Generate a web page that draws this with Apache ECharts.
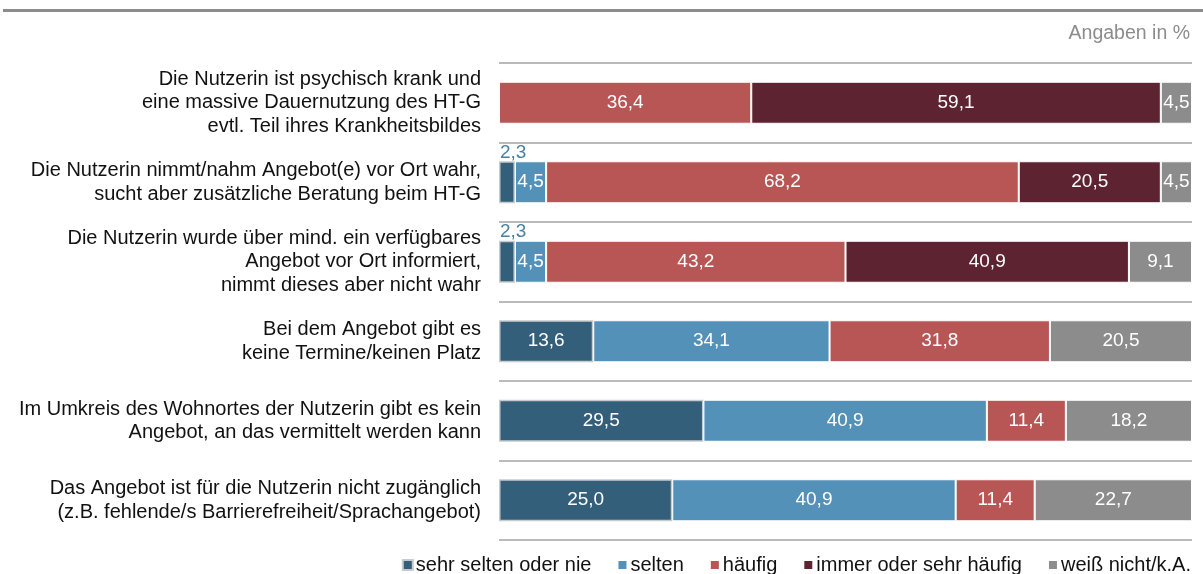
<!DOCTYPE html>
<html>
<head>
<meta charset="utf-8">
<script src="https://cdn.jsdelivr.net/npm/echarts@6/dist/echarts.min.js"></script>
<style>
  html, body { margin: 0; padding: 0; background: #fff; }
  #chart { width: 1203px; height: 574px; }
</style>
</head>
<body>
<div id="chart"></div>
<script>
// Kategorien (von oben nach unten)
const categories = [
  'Die Nutzerin ist psychisch krank und\neine massive Dauernutzung des HT-G\nevtl. Teil ihres Krankheitsbildes',
  'Die Nutzerin nimmt/nahm Angebot(e) vor Ort wahr,\nsucht aber zusätzliche Beratung beim HT-G',
  'Die Nutzerin wurde über mind. ein verfügbares\nAngebot vor Ort informiert,\nnimmt dieses aber nicht wahr',
  'Bei dem Angebot gibt es\nkeine Termine/keinen Platz',
  'Im Umkreis des Wohnortes der Nutzerin gibt es kein\nAngebot, an das vermittelt werden kann',
  'Das Angebot ist für die Nutzerin nicht zugänglich\n(z.B. fehlende/s Barrierefreiheit/Sprachangebot)'
];

const seriesNames = ['sehr selten oder nie', 'selten', 'häufig', 'immer oder sehr häufig', 'weiß nicht/k.A.'];

const sehrSelten = [null, 2.3, 2.3, 13.6, 29.5, 25.0];
const selten     = [null, 4.5, 4.5, 34.1, 40.9, 40.9];
const haeufig    = [36.4, 68.2, 43.2, 31.8, 11.4, 11.4];
const immer      = [59.1, 20.5, 40.9, null, null, null];
const weissNicht = [4.5, 4.5, 9.1, 20.5, 18.2, 22.7];

const colors = ['#335f7a', '#5391b8', '#b85656', '#5e2330', '#8c8c8c'];
const FONT = 'Liberation Sans, Arial, sans-serif';

const fmt = v => v.toFixed(1).replace('.', ',');

const chart = echarts.init(document.getElementById('chart'));

function makeSeries(name, data, color, idx) {
  return {
    name: name,
    type: 'bar',
    stack: 'total',
    barWidth: 42,
    data: data.map(v => {
      if (v === null) return '-';
      // kleine Werte: Beschriftung über dem Balken
      if (v < 3) {
        return {
          value: v,
          label: { position: [1, -18], align: 'left', color: '#4a7fa3' }
        };
      }
      return v;
    }),
    itemStyle: {
      color: color,
      borderColor: idx === 0 ? '#c6cbcf' : '#ffffff',
      borderWidth: idx === 0 ? 1.5 : 1
    },
    label: {
      show: true,
      position: 'inside',
      color: '#ffffff',
      fontSize: 19,
      fontFamily: FONT,
      formatter: p => fmt(p.value)
    },
    emphasis: { disabled: true }
  };
}

const option = {
  animation: false,
  color: colors,
  textStyle: { fontFamily: FONT },
  grid: { left: 499, right: 11, top: 63, bottom: 34 },
  xAxis: {
    type: 'value',
    min: 0,
    max: 100,
    show: false
  },
  yAxis: {
    type: 'category',
    data: categories,
    inverse: true,
    axisLine: { show: false },
    axisTick: { show: false },
    axisLabel: {
      color: '#111',
      fontSize: 20,
      lineHeight: 23.5,
      margin: 18,
      align: 'right'
    },
    splitLine: { show: true, lineStyle: { color: '#a3a3a3', width: 1.5 } }
  },
  legend: {
    top: 555,
    right: 12,
    padding: 0,
    itemWidth: 10,
    itemHeight: 10,
    itemGap: 25,
    icon: 'rect',
    textStyle: { fontSize: 20, lineHeight: 20, color: '#111', padding: [0, 0, 0, -2] },
    data: seriesNames
  },
  graphic: [
    {
      type: 'rect',
      shape: { x: 3, y: 9, width: 1200, height: 3 },
      style: { fill: '#8c8c8c' }
    },
    {
      type: 'text',
      right: 13,
      top: 24,
      style: { text: 'Angaben in %', fill: '#8c8c8c', fontSize: 19.5, fontFamily: FONT }
    }
  ],
  series: [
    makeSeries(seriesNames[0], sehrSelten, colors[0], 0),
    makeSeries(seriesNames[1], selten, colors[1], 1),
    makeSeries(seriesNames[2], haeufig, colors[2], 2),
    makeSeries(seriesNames[3], immer, colors[3], 3),
    makeSeries(seriesNames[4], weissNicht, colors[4], 4)
  ]
};

chart.setOption(option);
window.addEventListener('resize', () => chart.resize());
</script>
</body>
</html>
